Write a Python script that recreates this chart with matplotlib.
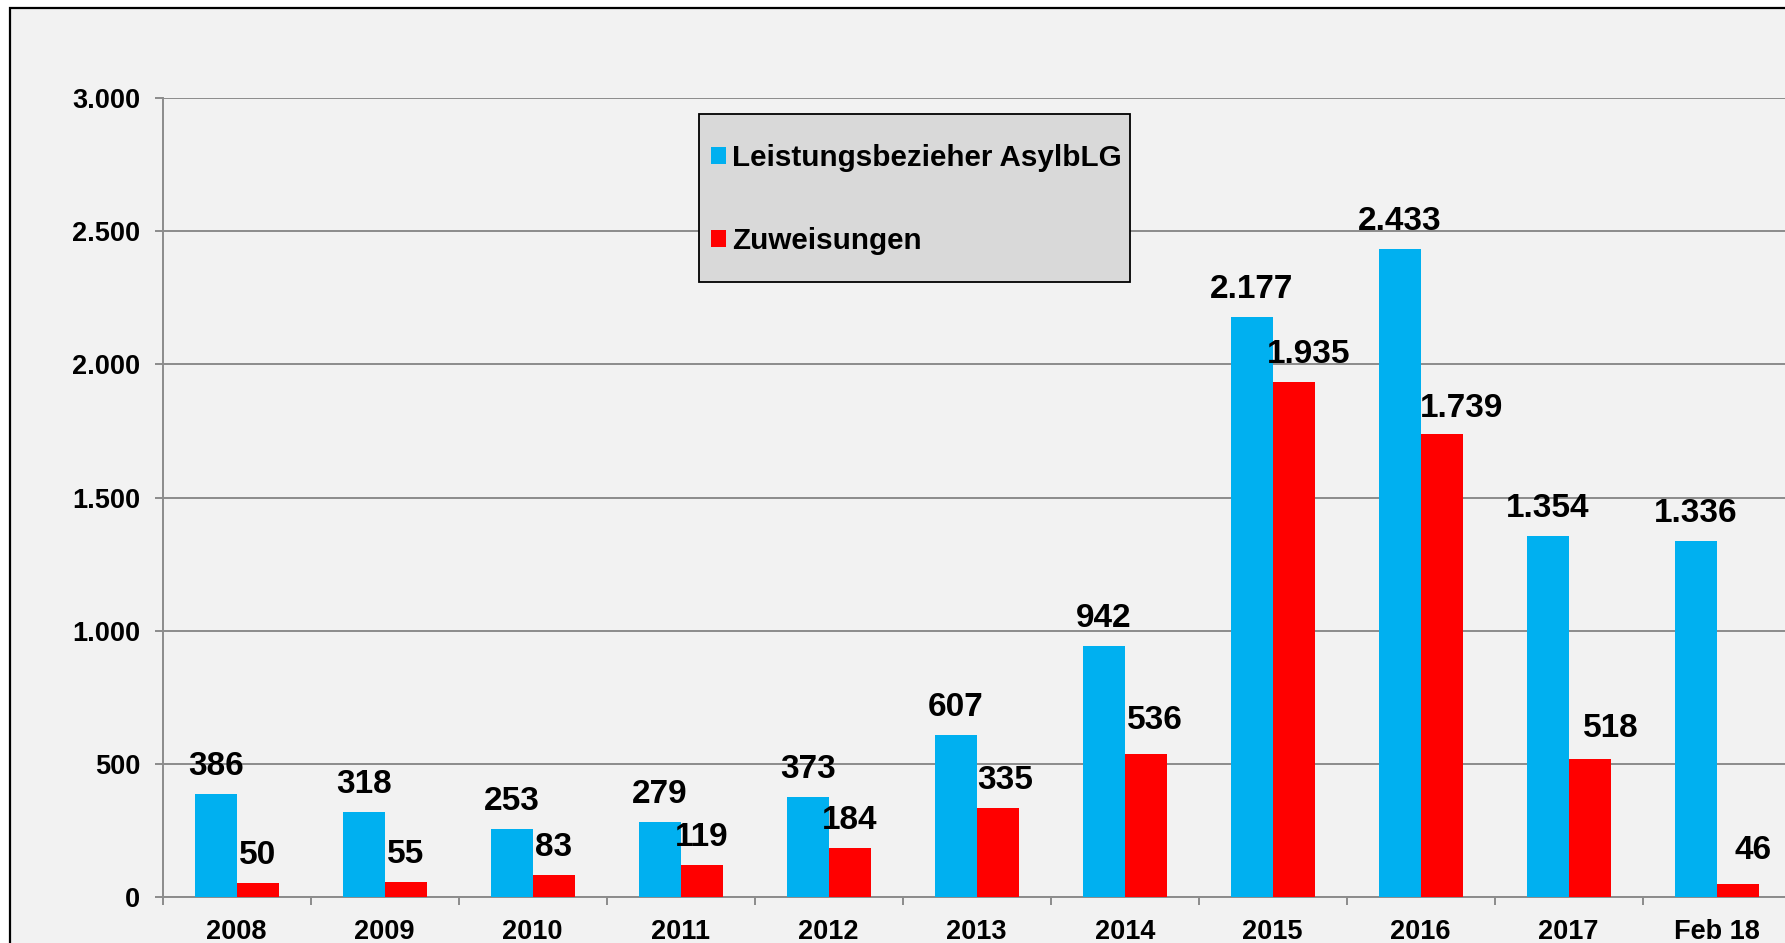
import matplotlib
matplotlib.use("Agg")
import matplotlib.pyplot as plt
from matplotlib.patches import Rectangle
from matplotlib.ticker import FuncFormatter, FixedLocator
import numpy as np

plt.rcParams['font.family'] = ['Liberation Sans', 'DejaVu Sans']
plt.rcParams['font.weight'] = 'bold'

# data
categories = ["2008", "2009", "2010", "2011", "2012", "2013", "2014", "2015", "2016", "2017", "Feb 18"]
leistungsbezieher = [386, 318, 253, 279, 373, 607, 942, 2177, 2433, 1354, 1336]
zuweisungen = [50, 55, 83, 119, 184, 335, 536, 1935, 1739, 518, 46]

# label nudges for the red series (pixels), as placed in the original
red_dx = [0, 0, 0, 0, 0, 7, 9, 15, 20, 21, 15]
red_dy = [0, 0, 0, 0, 0, 0, 6, 0, -2, 3, 6]

blue = "#00B0F0"
red = "#FF0000"
grid_col = "#8C8C8C"


def de_fmt(v, pos=None):
    return f"{v:,.0f}".replace(",", ".")


W, H = 1785, 943
fig = plt.figure(figsize=(W / 100, H / 100), dpi=100)
fig.patch.set_facecolor("white")

# outer chart frame (cut off at right and bottom)
fig.patches.append(Rectangle((10 / W, -0.1), 1.2, 1 - 8 / H + 0.1, transform=fig.transFigure,
                             facecolor="#F2F2F2", edgecolor="black", linewidth=1.6, zorder=-1))

ax = fig.add_axes([162.7 / W, 1 - 896.7 / H, 1628 / W, (896.7 - 98.3) / H])
ax.set_facecolor("none")

x = np.arange(len(categories))
bw = 0.284
ax.bar(x - bw / 2, leistungsbezieher, bw, color=blue, label="Leistungsbezieher AsylbLG", zorder=3)
ax.bar(x + bw / 2, zuweisungen, bw, color=red, label="Zuweisungen", zorder=3)

for xi, v in zip(x, leistungsbezieher):
    ax.annotate(de_fmt(v), (xi - bw / 2, v), xytext=(0, 19), textcoords="offset pixels",
                ha="center", va="baseline", fontsize=24, fontweight="bold")
for xi, v, dx, dy in zip(x, zuweisungen, red_dx, red_dy):
    ax.annotate(de_fmt(v), (xi + bw / 2, v), xytext=(dx, 19 + dy), textcoords="offset pixels",
                ha="center", va="baseline", fontsize=24, fontweight="bold")

ax.set_xlim(-0.5, len(categories) - 0.5)
ax.set_ylim(0, 3000)
ax.set_yticks(np.arange(0, 3001, 500))
ax.yaxis.set_major_formatter(FuncFormatter(de_fmt))
ax.set_xticks(x)
ax.set_xticklabels(categories)
ax.xaxis.set_minor_locator(FixedLocator(np.arange(-0.5, len(categories), 1.0)))

ax.tick_params(axis="x", which="major", length=0, pad=15.7, labelsize=19.5)
ax.tick_params(axis="x", which="minor", length=5.8, width=1.4, color=grid_col)
ax.tick_params(axis="y", length=5.8, width=1.4, color=grid_col, pad=10.5, labelsize=19.5)
for lab in ax.get_xticklabels() + ax.get_yticklabels():
    lab.set_fontweight("bold")

ax.grid(axis="y", color=grid_col, linewidth=1.4)
ax.set_axisbelow(True)
for s in ["top", "right"]:
    ax.spines[s].set_visible(False)
for s in ["left", "bottom"]:
    ax.spines[s].set_color(grid_col)
    ax.spines[s].set_linewidth(1.4)

# legend box
fig.patches.append(Rectangle((699 / W, 1 - 281.7 / H), (1130 - 699) / W, (281.7 - 114) / H,
                             transform=fig.transFigure, facecolor="#D9D9D9", edgecolor="black",
                             linewidth=1.3, zorder=5))
leg = fig.legend(loc="center left", bbox_to_anchor=(711 / W, 1 - 199.5 / H), frameon=False,
                 prop={"size": 21.3, "weight": "bold"}, handlelength=0.5, handleheight=0.5,
                 handletextpad=0.22, labelspacing=1.87, borderpad=0, borderaxespad=0)
leg.set_zorder(6)

fig.savefig("out.png", dpi=100)
